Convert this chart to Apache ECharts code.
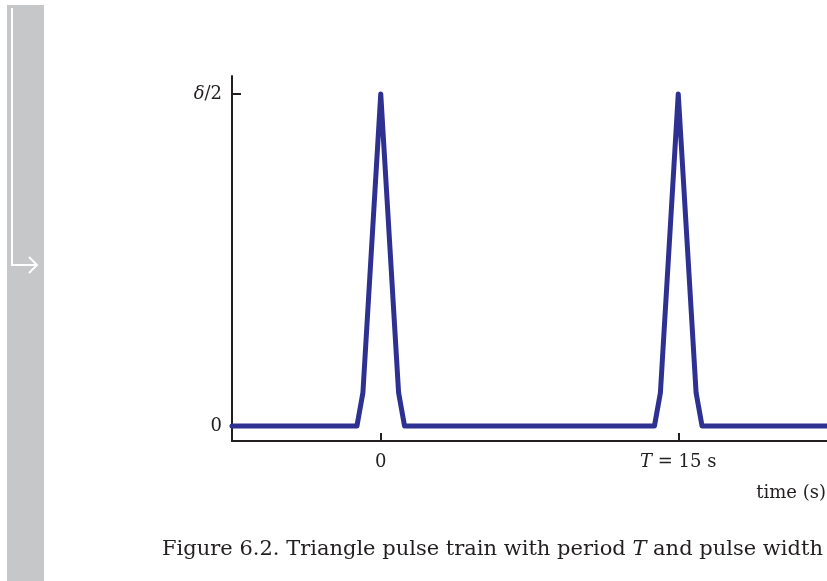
<!DOCTYPE html>
<html><head><meta charset="utf-8">
<script src="https://cdn.jsdelivr.net/npm/echarts@6/dist/echarts.min.js"></script>
<style>html,body{margin:0;padding:0;background:#fff}#c{width:827px;height:581px}</style>
</head><body><div id="c"></div>
<script>
// time (s) and normalized amplitude (1 = δ/2)
const times = [-7.5, -1.2, -0.9, 0, 0.9, 1.2, 13.8, 14.1, 15, 15.9, 16.2, 22.5];
const values = [0, 0, 0.1, 1, 0.1, 0, 0, 0.1, 1, 0.1, 0, 0];
const xTicks = [0, 15];
const xTickLabels = {0: '0', 15: '{i|T} = 15 s'};
const yTicks = [0, 1];
const yTickLabels = {0: '0', 1: '{i|δ}/2'};
const caption = 'Figure 6.2. Triangle pulse train with period ';

const ink = '#231f20';
const serif = '"DejaVu Serif", "Liberation Serif", serif';
const chart = echarts.init(document.getElementById('c'));
chart.setOption({
  animation: false,
  grid: {left: 232, right: 0, top: 76, bottom: 140},
  xAxis: {
    type: 'value', min: -7.5, max: 22.5,
    splitLine: {show: false},
    axisLine: {onZero: false, lineStyle: {color: ink, width: 2}},
    axisTick: {inside: true, length: 8, lineStyle: {color: ink, width: 2}, customValues: xTicks},
    axisLabel: {customValues: xTicks, margin: 12, color: ink, fontFamily: serif, fontSize: 18,
      formatter: v => xTickLabels[v],
      rich: {i: {fontStyle: 'italic', fontFamily: serif, fontSize: 18, color: ink}}}
  },
  yAxis: {
    type: 'value', min: -0.0452, max: 1.054,
    splitLine: {show: false},
    axisLine: {onZero: false, lineStyle: {color: ink, width: 2}},
    axisTick: {inside: true, length: 9, lineStyle: {color: ink, width: 2}, customValues: yTicks},
    axisLabel: {customValues: yTicks, margin: 10, color: ink, fontFamily: serif, fontSize: 18,
      formatter: v => yTickLabels[v],
      rich: {i: {fontStyle: 'italic', fontFamily: serif, fontSize: 18, color: ink}}}
  },
  series: [{
    type: 'line', data: times.map((t, i) => [t, values[i]]),
    symbol: 'none', lineStyle: {color: '#2e3192', width: 5, join: 'round', cap: 'round'},
    z: 1
  }],
  graphic: [
    {type: 'rect', shape: {x: 7, y: 5, width: 37, height: 580}, style: {fill: '#c6c7c9'}, silent: true},
    {type: 'polyline', shape: {points: [[12, 8], [12, 265], [37, 265]]}, style: {stroke: '#fff', lineWidth: 2, fill: null}},
    {type: 'polyline', shape: {points: [[29, 257], [37, 265], [29, 273]]}, style: {stroke: '#fff', lineWidth: 2, fill: null}},
    {type: 'text', right: 1, top: 484, style: {text: 'time (s)', font: '18px ' + serif, fill: ink}},
    {type: 'text', left: 162, top: 539, style: {
      text: caption + '{i|T} and pulse width', font: '21px ' + serif, fill: ink,
      rich: {i: {fontStyle: 'italic', fontSize: 21, fontFamily: serif, fill: ink}}}}
  ]
});
</script></body></html>
